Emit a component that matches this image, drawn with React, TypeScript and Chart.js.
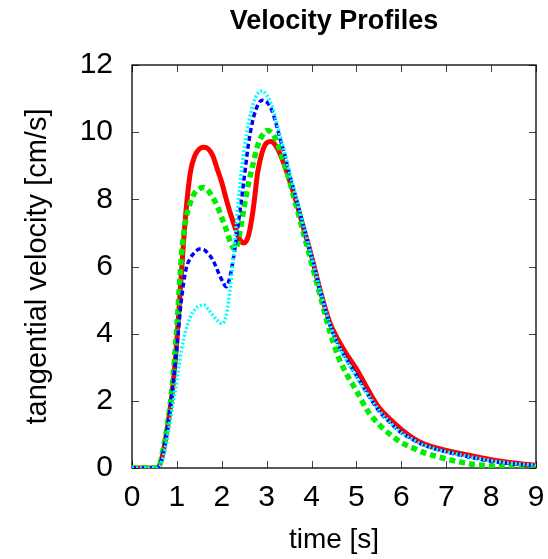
import React, { useEffect, useRef } from "react";
import { Chart, registerables } from "chart.js";

Chart.register(...registerables);

const titleText = "Velocity Profiles";
const xTitle = "time [s]";
const yTitle = "tangential velocity [cm/s]";

const times = [0, 0.3, 0.5, 0.6, 0.7, 0.8, 0.9, 1.0, 1.1, 1.2, 1.3, 1.4, 1.5, 1.6, 1.7, 1.8, 1.9, 2.0, 2.1, 2.2, 2.3, 2.4, 2.5, 2.6, 2.7, 2.8, 2.9, 3.0, 3.1, 3.2, 3.3, 3.4, 3.5, 3.6, 3.8, 4.0, 4.2, 4.4, 4.6, 4.8, 5.0, 5.25, 5.5, 5.75, 6.0, 6.25, 6.5, 7.0, 7.5, 8.0, 8.5, 9.0];

const redSeries = [0, 0, 0, 0.05, 0.5, 1.3, 2.3, 3.8, 5.8, 7.6, 8.8, 9.3, 9.5, 9.55, 9.5, 9.3, 8.9, 8.5, 8.0, 7.55, 7.15, 6.8, 6.7, 6.95, 7.7, 8.8, 9.4, 9.68, 9.72, 9.6, 9.35, 9.0, 8.6, 8.2, 7.25, 6.3, 5.25, 4.35, 3.8, 3.35, 2.95, 2.35, 1.8, 1.45, 1.15, 0.9, 0.72, 0.52, 0.38, 0.25, 0.15, 0.08];
const greenSeries = [0, 0, 0, 0.05, 0.6, 1.4, 2.5, 4.2, 6.3, 7.4, 7.9, 8.2, 8.32, 8.35, 8.25, 8.05, 7.8, 7.45, 7.1, 6.7, 6.5, 7.0, 7.8, 8.5, 9.07, 9.6, 9.9, 10.05, 10.0, 9.8, 9.45, 9.05, 8.6, 8.1, 7.1, 6.1, 5.1, 4.1, 3.3, 2.75, 2.3, 1.7, 1.3, 1.0, 0.76, 0.6, 0.46, 0.27, 0.13, 0.06, 0.02, 0.0];
const blueSeries = [0, 0, 0, 0.05, 0.5, 1.3, 2.3, 3.6, 5.0, 5.9, 6.25, 6.42, 6.52, 6.5, 6.38, 6.2, 5.9, 5.6, 5.4, 5.8, 6.6, 7.6, 8.65, 9.7, 10.4, 10.8, 10.95, 10.9, 10.7, 10.3, 9.8, 9.35, 8.8, 8.3, 7.3, 6.3, 5.25, 4.3, 3.65, 3.2, 2.75, 2.2, 1.7, 1.35, 1.05, 0.85, 0.68, 0.48, 0.33, 0.2, 0.12, 0.07];
const cyanSeries = [0, 0, 0, 0.03, 0.35, 1.0, 1.8, 2.6, 3.5, 4.1, 4.5, 4.72, 4.83, 4.85, 4.72, 4.55, 4.4, 4.3, 4.55, 5.5, 6.9, 8.4, 9.5, 10.3, 10.85, 11.15, 11.22, 11.1, 10.85, 10.4, 9.9, 9.4, 8.85, 8.35, 7.35, 6.3, 5.25, 4.3, 3.65, 3.15, 2.7, 2.2, 1.72, 1.35, 1.05, 0.85, 0.68, 0.48, 0.34, 0.22, 0.13, 0.08];

const FONT = "'Liberation Sans', Arial, Helvetica, sans-serif";

const framePlugin = {
  id: "frameAndTicks",
  beforeDatasetsDraw(chart: any) {
    const { ctx, chartArea } = chart;
    const { left, right, top, bottom } = chartArea;
    const xs = chart.scales.x;
    const ys = chart.scales.y;
    ctx.save();
    ctx.strokeStyle = "#444";
    ctx.lineWidth = 1;
    const tl = 7;
    ctx.beginPath();
    xs.ticks.forEach((t: any) => {
      const px = Math.round(xs.getPixelForValue(t.value)) + 0.5;
      ctx.moveTo(px, bottom);
      ctx.lineTo(px, bottom - tl);
      ctx.moveTo(px, top);
      ctx.lineTo(px, top + tl);
    });
    ys.ticks.forEach((t: any) => {
      const py = Math.round(ys.getPixelForValue(t.value)) + 0.5;
      ctx.moveTo(left, py);
      ctx.lineTo(left + tl, py);
      ctx.moveTo(right, py);
      ctx.lineTo(right - tl, py);
    });
    ctx.stroke();
    ctx.strokeStyle = "#000";
    ctx.lineWidth = 1.3;
    ctx.strokeRect(left, top, right - left, bottom - top);
    ctx.restore();
  },
  afterDraw(chart: any) {
    const { ctx, chartArea } = chart;
    ctx.save();
    ctx.fillStyle = "#000";
    ctx.font = `bold 27px ${FONT}`;
    ctx.textAlign = "center";
    ctx.textBaseline = "middle";
    ctx.fillText(titleText, (chartArea.left + chartArea.right) / 2, 22);
    ctx.restore();
  },
};

export default function App() {
  const canvasRef = useRef<HTMLCanvasElement | null>(null);

  useEffect(() => {
    if (!canvasRef.current) return;
    const mk = (vals: number[]) => times.map((t, i) => ({ x: t, y: vals[i] }));
    const chart = new Chart(canvasRef.current, {
      type: "line",
      data: {
        datasets: [
          {
            label: "cyan",
            data: mk(cyanSeries),
            borderColor: "#00ffff",
            borderWidth: 3.5,
            borderDash: [2, 2],
            pointRadius: 0,
            cubicInterpolationMode: "monotone",
          },
          {
            label: "blue",
            data: mk(blueSeries),
            borderColor: "#0000ff",
            borderWidth: 3.5,
            borderDash: [5, 3],
            pointRadius: 0,
            cubicInterpolationMode: "monotone",
          },
          {
            label: "green",
            data: mk(greenSeries),
            borderColor: "#00ee00",
            borderWidth: 5.5,
            borderDash: [6, 4],
            pointRadius: 0,
            cubicInterpolationMode: "monotone",
          },
          {
            label: "red",
            data: mk(redSeries),
            borderColor: "#ff0000",
            borderWidth: 5,
            pointRadius: 0,
            cubicInterpolationMode: "monotone",
          },
        ],
      },
      options: {
        animation: false,
        responsive: false,
        devicePixelRatio: 1,
        layout: { padding: { top: 65, right: 12, bottom: 0, left: 0 } },
        plugins: {
          legend: { display: false },
          title: { display: false },
          tooltip: { enabled: false },
        },
        scales: {
          x: {
            type: "linear",
            min: 0,
            max: 9,
            grid: { display: false, drawTicks: false },
            border: { display: false },
            ticks: {
              stepSize: 1,
              autoSkip: false,
              maxRotation: 0,
              minRotation: 0,
              padding: 12,
              color: "#000",
              font: { family: FONT, size: 30 },
            },
            title: {
              display: true,
              text: xTitle,
              color: "#000",
              font: { family: FONT, size: 28 },
              padding: { top: 0, bottom: 2 },
            },
            afterFit(scale: any) {
              scale.height = 91;
              scale.paddingLeft = 0;
              scale.paddingRight = 0;
            },
          },
          y: {
            type: "linear",
            min: 0,
            max: 12,
            grid: { display: false, drawTicks: false },
            border: { display: false },
            ticks: {
              stepSize: 2,
              autoSkip: false,
              padding: 19,
              color: "#000",
              font: { family: FONT, size: 30 },
            },
            title: {
              display: true,
              text: yTitle,
              color: "#000",
              font: { family: FONT, size: 29 },
              padding: { top: 21, bottom: 0 },
            },
            afterFit(scale: any) {
              scale.width = 132;
              scale.paddingTop = 0;
              scale.paddingBottom = 0;
            },
          },
        },
      },
      plugins: [framePlugin],
    } as any);
    return () => chart.destroy();
  }, []);

  return (
    <div style={{ position: "fixed", left: 0, top: 0, width: 548, height: 559, background: "#fff" }}>
      <canvas ref={canvasRef} width={548} height={559} style={{ width: 548, height: 559, display: "block" }} />
    </div>
  );
}
